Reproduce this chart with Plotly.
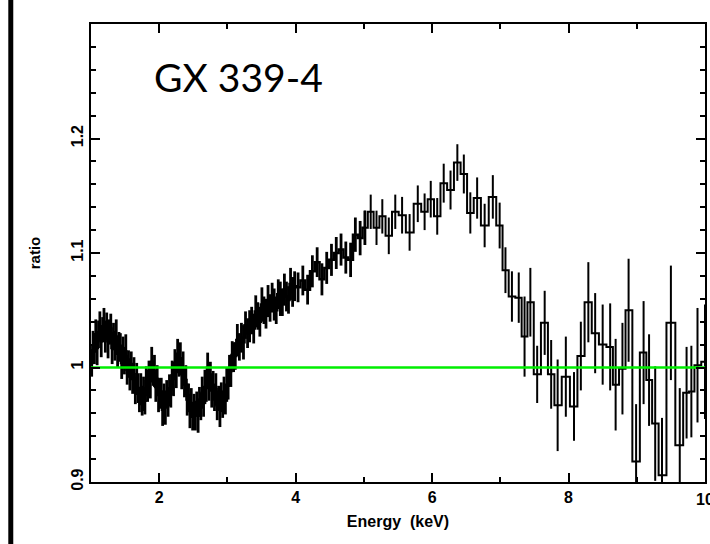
import plotly.graph_objects as go

# ---- data: GX 339-4 data/model ratio ----
energy_soft = [1.01, 1.03, 1.05, 1.07, 1.09, 1.11, 1.13, 1.15, 1.17, 1.19,
               1.21, 1.23, 1.25, 1.27, 1.29, 1.31, 1.33, 1.35, 1.37, 1.39,
               1.41, 1.43, 1.45, 1.47, 1.49, 1.51, 1.53, 1.55, 1.57, 1.59,
               1.61, 1.63, 1.65, 1.67, 1.69, 1.71, 1.73, 1.75, 1.77, 1.79,
               1.81, 1.83, 1.85, 1.87, 1.89, 1.91, 1.93, 1.95, 1.97, 1.99,
               2.01, 2.03, 2.05, 2.07, 2.09, 2.11, 2.13, 2.15, 2.17, 2.19,
               2.21, 2.23, 2.25, 2.27, 2.29, 2.31, 2.33, 2.35, 2.37, 2.39,
               2.41, 2.43, 2.45, 2.47, 2.49, 2.51, 2.53, 2.55, 2.57, 2.59,
               2.61, 2.63, 2.65, 2.67, 2.69, 2.71, 2.73, 2.75, 2.77, 2.79,
               2.81, 2.83, 2.85, 2.87, 2.89, 2.91, 2.93, 2.95, 2.97, 2.99,
               3.01, 3.03, 3.05, 3.07, 3.09]
ratio_soft = [1.004, 1.018, 1.014, 1.029, 1.017, 1.029, 1.036, 1.023, 1.033, 1.039,
              1.027, 1.036, 1.023, 1.031, 1.034, 1.017, 1.027, 1.019, 1.027, 1.012,
              1.018, 1.019, 1.004, 1.014, 1.006, 1.014, 0.998, 1.003, 0.994, 1.003,
              0.990, 0.994, 0.980, 0.990, 0.982, 0.972, 0.981, 0.971, 0.977, 0.971,
              0.988, 0.984, 0.994, 0.988, 1.005, 0.995, 0.997, 0.983, 0.990, 0.976,
              0.977, 0.979, 0.963, 0.973, 0.965, 0.978, 0.970, 0.980, 0.977, 0.993,
              0.990, 1.004, 0.996, 1.012, 1.003, 1.008, 0.994, 0.999, 0.986, 0.989,
              0.972, 0.974, 0.962, 0.969, 0.957, 0.963, 0.958, 0.968, 0.958, 0.970,
              0.966, 0.978, 0.970, 0.983, 0.982, 1.000, 0.985, 0.993, 0.980, 0.984,
              0.974, 0.981, 0.967, 0.973, 0.963, 0.974, 0.968, 0.978, 0.972, 0.985,
              0.984, 0.998, 0.997, 1.011, 1.009]
err_soft = [0.012, 0.014, 0.011, 0.013, 0.015, 0.012, 0.013, 0.014, 0.011, 0.013,
            0.014, 0.012, 0.015, 0.011, 0.013, 0.014, 0.012, 0.013, 0.015, 0.012,
            0.013, 0.011, 0.014, 0.013, 0.012, 0.015, 0.013, 0.012, 0.014, 0.011,
            0.013, 0.015, 0.012, 0.014, 0.013, 0.011, 0.014, 0.013, 0.015, 0.012,
            0.013, 0.014, 0.012, 0.015, 0.013, 0.011, 0.014, 0.013, 0.012, 0.015,
            0.013, 0.012, 0.014, 0.013, 0.015, 0.011, 0.013, 0.014, 0.012, 0.013,
            0.015, 0.012, 0.014, 0.013, 0.011, 0.014, 0.013, 0.015, 0.012, 0.013,
            0.014, 0.012, 0.015, 0.013, 0.012, 0.014, 0.013, 0.011, 0.015, 0.013,
            0.012, 0.014, 0.013, 0.015, 0.012, 0.013, 0.014, 0.012, 0.015, 0.013,
            0.012, 0.014, 0.013, 0.011, 0.015, 0.013, 0.012, 0.014, 0.013, 0.015,
            0.012, 0.013, 0.014, 0.012, 0.013]

energy_mid = [3.115, 3.145, 3.175, 3.205, 3.235, 3.265, 3.295, 3.325, 3.355, 3.385,
              3.415, 3.445, 3.475, 3.505, 3.535, 3.565, 3.595, 3.625, 3.655, 3.685,
              3.715, 3.745, 3.775, 3.805, 3.835, 3.865, 3.895, 3.925, 3.955, 3.985,
              4.035, 4.105, 4.175, 4.245, 4.315, 4.385, 4.455, 4.525, 4.595, 4.665,
              4.735, 4.805, 4.875, 4.945, 5.015]
ratio_mid = [1.010, 1.024, 1.018, 1.026, 1.022, 1.037, 1.030, 1.036, 1.041, 1.034,
             1.049, 1.045, 1.040, 1.055, 1.050, 1.047, 1.058, 1.052, 1.061, 1.055,
             1.050, 1.064, 1.060, 1.057, 1.068, 1.062, 1.059, 1.073, 1.066, 1.071,
             1.070, 1.076, 1.068, 1.084, 1.092, 1.077, 1.087, 1.094, 1.100, 1.103,
             1.096, 1.094, 1.116, 1.113, 1.122]
err_mid = [0.012, 0.014, 0.012, 0.013, 0.015, 0.012, 0.013, 0.014, 0.012, 0.013,
           0.014, 0.012, 0.013, 0.015, 0.012, 0.013, 0.014, 0.012, 0.013, 0.014,
           0.012, 0.013, 0.015, 0.012, 0.014, 0.013, 0.012, 0.014, 0.013, 0.013,
           0.013, 0.013, 0.013, 0.014, 0.013, 0.014, 0.014, 0.014, 0.014, 0.014,
           0.014, 0.015, 0.015, 0.015, 0.015]

energy_iron = [5.10, 5.185, 5.27, 5.365, 5.46, 5.56, 5.67, 5.79, 5.89, 5.98,
               6.075, 6.17, 6.27, 6.37, 6.465, 6.56, 6.66, 6.77, 6.89, 6.99]
ratio_iron = [1.136, 1.122, 1.132, 1.115, 1.136, 1.133, 1.118, 1.143, 1.136, 1.147,
              1.132, 1.161, 1.155, 1.179, 1.169, 1.135, 1.148, 1.124, 1.149, 1.124]
err_iron = [0.015, 0.015, 0.015, 0.016, 0.015, 0.016, 0.016, 0.016, 0.016, 0.016,
            0.016, 0.017, 0.017, 0.016, 0.017, 0.018, 0.018, 0.019, 0.019, 0.020]

energy_hard = [7.075, 7.17, 7.27, 7.355, 7.44, 7.54, 7.65, 7.745, 7.84, 7.96,
               8.08, 8.18, 8.29, 8.39, 8.50, 8.61, 8.69, 8.79, 8.88, 8.99,
               9.10, 9.18, 9.27, 9.37, 9.50, 9.63, 9.73, 9.80, 9.89, 10.0]
ratio_hard = [1.085, 1.062, 1.061, 1.027, 1.057, 0.994, 1.039, 0.994, 0.967, 0.992,
              0.966, 1.010, 1.057, 1.030, 1.020, 1.018, 0.985, 0.999, 1.050, 0.918,
              1.013, 0.989, 0.951, 0.906, 1.039, 0.932, 0.978, 0.979, 1.002, 1.005]
err_hard = [0.020, 0.022, 0.022, 0.035, 0.030, 0.025, 0.028, 0.030, 0.040, 0.035,
            0.030, 0.030, 0.035, 0.035, 0.035, 0.038, 0.040, 0.040, 0.045, 0.050,
            0.045, 0.040, 0.050, 0.050, 0.050, 0.050, 0.040, 0.040, 0.050, 0.050]

# dense (narrow-bin) part and wide-bin part of the spectrum
energy_dense = energy_soft + energy_mid
ratio_dense = ratio_soft + ratio_mid
err_dense = err_soft + err_mid
energy_wide = energy_mid[-1:] + energy_iron + energy_hard
ratio_wide = ratio_mid[-1:] + ratio_iron + ratio_hard
err_wide = err_mid[-1:] + err_iron + err_hard

x_range = [1, 10]
y_range = [0.9, 1.3]
x_ticks = [2, 4, 6, 8]
last_x_tick = 10
y_ticks = [0.9, 1.0, 1.1, 1.2]
y_ticktext = ["0.9", "1", "1.1", "1.2"]
model_level = 1.0
source_name = "GX 339-4"

label_font = dict(family="Liberation Sans, Arial, sans-serif", size=16, color="black", weight="bold")

fig = go.Figure()
fig.add_trace(go.Scatter(
    x=energy_dense, y=ratio_dense, mode="lines",
    line=dict(color="black", width=2.5, shape="hvh"),
    error_y=dict(type="data", array=err_dense, width=0, thickness=2.8, color="black"),
    showlegend=False, hoverinfo="x+y",
))
fig.add_trace(go.Scatter(
    x=energy_wide, y=ratio_wide, mode="lines",
    line=dict(color="black", width=2, shape="hvh"),
    error_y=dict(type="data", array=err_wide, width=0, thickness=2, color="black"),
    showlegend=False, hoverinfo="x+y",
))
fig.add_trace(go.Scatter(
    x=x_range, y=[model_level, model_level], mode="lines",
    line=dict(color="#00ee00", width=2.5), showlegend=False,
))

axis_common = dict(
    showline=True, linecolor="black", linewidth=2, mirror="allticks",
    ticks="inside", ticklen=9, tickwidth=2, tickcolor="black",
    showgrid=False, zeroline=False, tickfont=label_font,
)
fig.update_xaxes(
    range=x_range, tickvals=x_ticks, **axis_common,
    minor=dict(ticks="inside", dtick=1, tick0=0, ticklen=5, tickwidth=2, tickcolor="black"),
    title=dict(text="Energy  (keV)", standoff=11, font=label_font),
)
fig.update_yaxes(
    range=y_range, tickvals=y_ticks, ticktext=y_ticktext, tickangle=-90, **axis_common,
    minor=dict(ticks="inside", dtick=0.02, tick0=0.9, ticklen=5, tickwidth=2, tickcolor="black"),
    title=dict(text="ratio", standoff=24,
               font=dict(family="Liberation Sans, Arial, sans-serif", size=15, color="black", weight="bold")),
)

# the 10 keV tick label sits at the very edge of the page (cut off, as in the original)
fig.add_annotation(
    text=str(last_x_tick), x=last_x_tick, xref="x", y=0, yref="paper",
    xanchor="center", yanchor="top", yshift=-7, showarrow=False, font=label_font,
)
fig.add_annotation(
    text=source_name, xref="paper", yref="paper", x=0.099, y=0.885,
    xanchor="left", yanchor="middle", showarrow=False,
    font=dict(family="Lato, sans-serif", size=39, color="black"),
)
# dark frame bar at left edge of the slide
fig.add_shape(type="rect", xref="paper", yref="paper",
              x0=-0.1347, x1=-0.1266, y0=-0.2, y1=1.1,
              fillcolor="black", line=dict(width=0), layer="above")

fig.update_layout(
    width=710, height=544,
    margin=dict(l=91, r=3, t=24, b=62),
    paper_bgcolor="white", plot_bgcolor="white",
)
fig.write_html("out.html")
